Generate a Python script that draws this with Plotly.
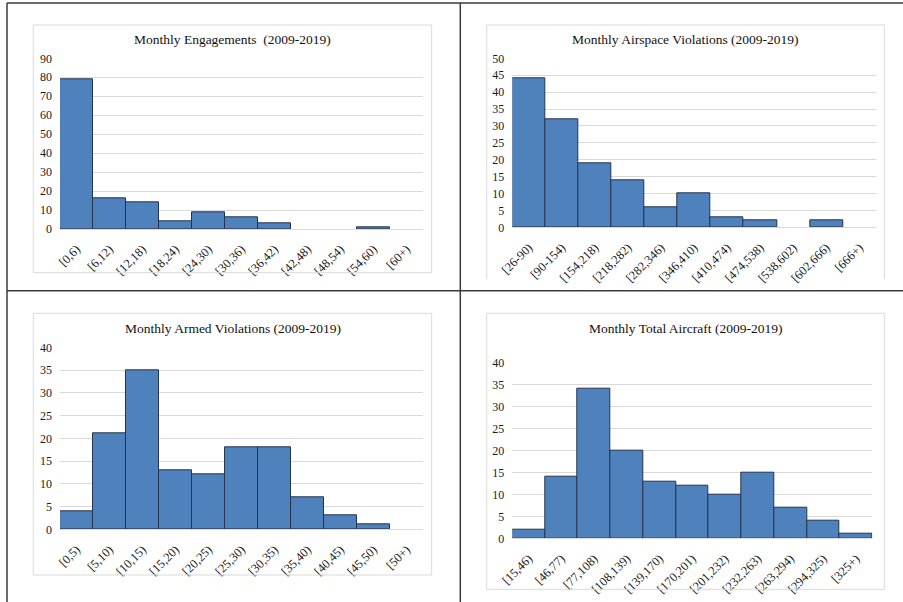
import plotly.graph_objects as go

# ---------------- data ----------------
eng_labels = ["[0,6)", "[6,12)", "[12,18)", "[18,24)", "[24,30)", "[30,36)",
              "[36,42)", "[42,48)", "[48,54)", "[54,60)", "[60+)"]
eng_values = [79, 16, 14, 4, 9, 6, 3, 0, 0, 1, 0]

air_labels = ["[26-90)", "[90-154)", "[154,218)", "[218,282)", "[282,346)", "[346,410)",
              "[410,474)", "[474,538)", "[538,602)", "[602,666)", "[666+)"]
air_values = [44, 32, 19, 14, 6, 10, 3, 2, 0, 2, 0]

arm_labels = ["[0,5)", "[5,10)", "[10,15)", "[15,20)", "[20,25)", "[25,30)",
              "[30,35)", "[35,40)", "[40,45)", "[45,50)", "[50+)"]
arm_values = [4, 21, 35, 13, 12, 18, 18, 7, 3, 1, 0]

tot_labels = ["[15,46)", "[46,77)", "[77,108)", "[108,139)", "[139,170)", "[170,201)",
              "[201,232)", "[232,263)", "[263,294)", "[294,325)", "[325+)"]
tot_values = [2, 14, 34, 20, 13, 12, 10, 15, 7, 4, 1]

titles = ["Monthly Engagements  (2009-2019)", "Monthly Airspace Violations (2009-2019)",
          "Monthly Armed Violations (2009-2019)", "Monthly Total Aircraft (2009-2019)"]
y_max = [90, 50, 40, 40]
y_step = [10, 5, 5, 5]

# ---------------- layout (pixels) ----------------
W, H = 903, 602
def fx(px): return px / W
def fy(py): return 1 - py / H

# plot areas: (x0, x1, ytop, ybottom)
plots = [(60, 423, 58.3, 229), (512.3, 876, 58.3, 227.3),
         (60, 423, 347.3, 529.3), (512.3, 872.3, 362.7, 538.3)]
title_pos = [(232.5, 40), (685.5, 40), (232.5, 328), (685.5, 328)]

FONT = "Liberation Serif"
TXT = "#1a1a1a"
BAR = "#4F81BD"
EDGE = "#25344d"
GRID = "#D9D9D9"

fig = go.Figure()
labels_all = [eng_labels, air_labels, arm_labels, tot_labels]
values_all = [eng_values, air_values, arm_values, tot_values]

layout = dict(width=W, height=H, margin=dict(l=0, r=0, t=0, b=0, autoexpand=False),
              paper_bgcolor="white", plot_bgcolor="white", showlegend=False,
              bargap=0, template="none")

for i in range(4):
    sfx = "" if i == 0 else str(i + 1)
    vals = values_all[i]
    fig.add_trace(go.Bar(x=labels_all[i], y=vals,
                         marker=dict(color=BAR,
                                     line=dict(color=EDGE,
                                               width=[1 if v > 0 else 0 for v in vals])),
                         xaxis="x" + sfx, yaxis="y" + sfx, hoverinfo="x+y"))
    x0, x1, yt, yb = plots[i]
    layout["xaxis" + sfx] = dict(domain=[fx(x0), fx(x1)], anchor="y" + sfx,
                                 type="category", tickangle=-45, automargin=False,
                                 tickfont=dict(family=FONT, size=12.5, color=TXT),
                                 showgrid=False, showline=True, linecolor=GRID,
                                 linewidth=1, ticks="", ticklabelstandoff=7,
                                 fixedrange=True)
    layout["yaxis" + sfx] = dict(domain=[fy(yb), fy(yt)], anchor="x" + sfx,
                                 range=[0, y_max[i]], dtick=y_step[i], tick0=0,
                                 automargin=False,
                                 tickfont=dict(family=FONT, size=12, color=TXT),
                                 showgrid=True, gridcolor=GRID, gridwidth=1,
                                 zeroline=False, showline=False, ticks="",
                                 ticklabelstandoff=7, fixedrange=True)

annotations = []
for i in range(4):
    tx, ty = title_pos[i]
    annotations.append(dict(text=titles[i], x=fx(tx), y=fy(ty), xref="paper", yref="paper",
                            xanchor="center", yanchor="middle", showarrow=False,
                            font=dict(family=FONT, size=13.5, color="#111111")))
layout["annotations"] = annotations

shapes = []
# chart-area boxes (light grey)
boxes = [(33.3, 25, 431.7, 272.7, True), (486.7, 25, 884.3, 279, False),
         (33.3, 313.3, 431.7, 575, True), (486.7, 313.3, 884.3, 589.3, True)]
for (bx0, by0, bx1, by1, closed) in boxes:
    if closed:
        shapes.append(dict(type="rect", xref="paper", yref="paper",
                           x0=fx(bx0), x1=fx(bx1), y0=fy(by1), y1=fy(by0),
                           line=dict(color=GRID, width=1)))
    else:
        path = f"M {fx(bx0)} {fy(by1)} L {fx(bx0)} {fy(by0)} L {fx(bx1)} {fy(by0)} L {fx(bx1)} {fy(by1)}"
        shapes.append(dict(type="path", xref="paper", yref="paper", path=path,
                           line=dict(color=GRID, width=1)))
# outer table lines (dark)
DARK = "#3a3a3a"
for (lx0, ly0, lx1, ly1) in [(7, 3, 903, 3), (7, 3, 7, 602), (460.3, 3, 460.3, 602),
                             (7, 290.7, 903, 290.7)]:
    shapes.append(dict(type="line", xref="paper", yref="paper",
                       x0=fx(lx0), x1=fx(lx1), y0=fy(ly0), y1=fy(ly1),
                       line=dict(color=DARK, width=1.5)))
layout["shapes"] = shapes

fig.update_layout(**layout)
fig.write_html("out.html", config={"displayModeBar": False},
               post_script="document.body.style.margin='0';document.body.style.padding='0';"
                           "document.body.style.overflow='hidden';"
                           "document.documentElement.style.overflow='hidden';")
